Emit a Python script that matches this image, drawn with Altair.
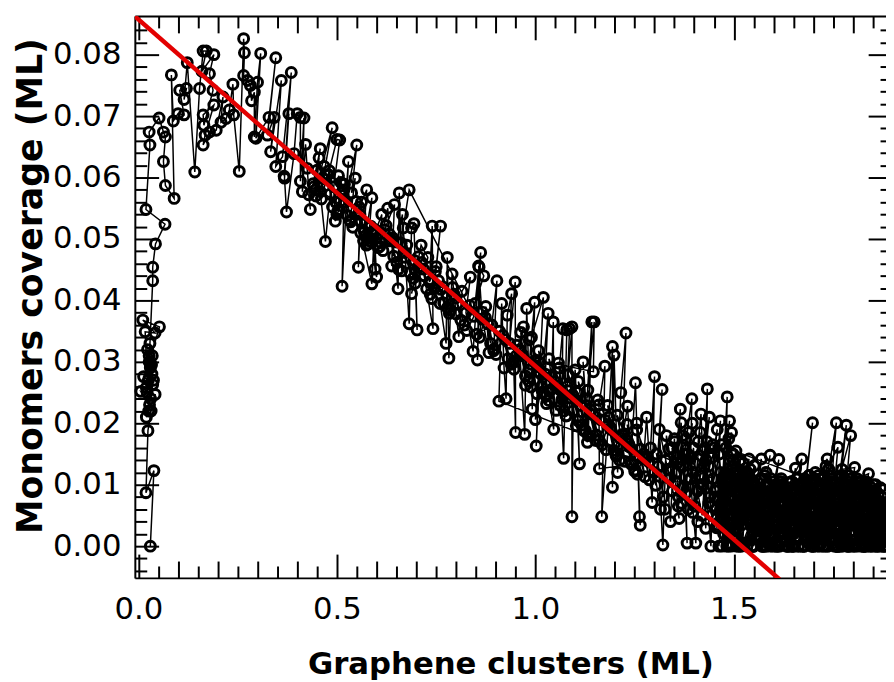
import altair as alt
import pandas as pd

# ---------------- data (ordered as in the connected series) ----------------
rise_x = [0.030, 0.039, 0.019, 0.024, 0.032, 0.020, 0.042, 0.006, 0.028, 0.036,
          0.013, 0.029, 0.033, 0.020, 0.038, 0.023, 0.030, 0.025, 0.031, 0.027,
          0.034, 0.022, 0.029, 0.035, 0.026, 0.017, 0.042, 0.011, 0.053, 0.027,
          0.036, 0.036, 0.043, 0.067, 0.019, 0.029, 0.027, 0.052, 0.063, 0.068,
          0.063, 0.068, 0.090]
rise_y = [0.0000, 0.0123, 0.0087, 0.0188, 0.0220, 0.0210, 0.0247, 0.0252, 0.0230, 0.0263,
          0.0276, 0.0298, 0.0295, 0.0258, 0.0270, 0.0320, 0.0290, 0.0270, 0.0240, 0.0310,
          0.0280, 0.0250, 0.0330, 0.0310, 0.0220, 0.0349, 0.0347, 0.0368, 0.0357, 0.0300,
          0.0432, 0.0454, 0.0492, 0.0524, 0.0548, 0.0653, 0.0674, 0.0697, 0.0674, 0.0666,
          0.0626, 0.0587, 0.0566]

plateau_x = [0.083, 0.088, 0.100, 0.115, 0.104, 0.121, 0.115, 0.123, 0.142, 0.154,
             0.163, 0.171, 0.160, 0.190, 0.179, 0.188, 0.165, 0.163, 0.190, 0.168,
             0.163, 0.179, 0.196, 0.213, 0.208, 0.221, 0.229, 0.238, 0.240, 0.254,
             0.265, 0.267, 0.265, 0.275, 0.282, 0.285, 0.292, 0.292, 0.300, 0.308,
             0.296, 0.329, 0.346, 0.325, 0.342, 0.333, 0.360, 0.346, 0.363, 0.385,
             0.367, 0.379, 0.368, 0.373, 0.392, 0.400, 0.408, 0.408, 0.417, 0.413,
             0.421]
plateau_y = [0.0767, 0.0692, 0.0704, 0.0702, 0.0742, 0.0745, 0.0727, 0.0787, 0.0609, 0.0745,
             0.0806, 0.0806, 0.0773, 0.0800, 0.0769, 0.0742, 0.0685, 0.0702, 0.0718, 0.0669,
             0.0653, 0.0674, 0.0677, 0.0731, 0.0690, 0.0696, 0.0710, 0.0752, 0.0702, 0.0610,
             0.0826, 0.0803, 0.0766, 0.0758, 0.0750, 0.0725, 0.0739, 0.0666, 0.0755, 0.0802,
             0.0664, 0.0698, 0.0795, 0.0669, 0.0698, 0.0642, 0.0758, 0.0618, 0.0634, 0.0771,
             0.0602, 0.0704, 0.0599, 0.0544, 0.0639, 0.0704, 0.0698, 0.0594, 0.0697, 0.0577,
             0.0654]

declA_x = [0.425, 0.433, 0.429, 0.440, 0.458, 0.450, 0.446, 0.488, 0.465, 0.458,
           0.471, 0.483, 0.478, 0.500, 0.507, 0.492, 0.496, 0.500, 0.506, 0.504,
           0.518, 0.513, 0.529, 0.521, 0.550, 0.537, 0.546, 0.533, 0.558, 0.554,
           0.562, 0.575, 0.567, 0.571, 0.588, 0.579, 0.583, 0.560, 0.588, 0.594,
           0.600, 0.596, 0.590, 0.613, 0.608, 0.628, 0.633, 0.620, 0.645, 0.638,
           0.640, 0.654, 0.657, 0.663, 0.665, 0.650]
declA_y = [0.0615, 0.0548, 0.0572, 0.0590, 0.0647, 0.0612, 0.0580, 0.0681, 0.0598, 0.0577,
           0.0496, 0.0573, 0.0605, 0.0662, 0.0661, 0.0585, 0.0529, 0.0540, 0.0548, 0.0603,
           0.0580, 0.0423, 0.0626, 0.0560, 0.0653, 0.0575, 0.0599, 0.0530, 0.0540, 0.0454,
           0.0560, 0.0580, 0.0497, 0.0505, 0.0567, 0.0492, 0.0497, 0.0510, 0.0427, 0.0510,
           0.0438, 0.0451, 0.0500, 0.0540, 0.0488, 0.0550, 0.0497, 0.0515, 0.0556, 0.0456,
           0.0502, 0.0419, 0.0575, 0.0448, 0.0540, 0.0495]

declF_x = [0.442, 0.455, 0.447, 0.468, 0.461, 0.476, 0.489, 0.481, 0.497, 0.510,
           0.502, 0.516, 0.527, 0.519, 0.535, 0.548, 0.540, 0.556, 0.569, 0.561,
           0.577, 0.585, 0.574, 0.592, 0.604, 0.597, 0.611, 0.624, 0.616, 0.632,
           0.643, 0.636, 0.651, 0.662, 0.655, 0.671, 0.684, 0.676, 0.692, 0.705,
           0.697, 0.713, 0.726, 0.718, 0.735, 0.748, 0.739, 0.756, 0.769, 0.762,
           0.778, 0.791, 0.783, 0.799, 0.812, 0.804, 0.821, 0.834, 0.827, 0.845]
declF_y = [0.0585, 0.0632, 0.0570, 0.0618, 0.0565, 0.0604, 0.0552, 0.0611, 0.0560, 0.0592,
           0.0545, 0.0571, 0.0538, 0.0589, 0.0528, 0.0561, 0.0519, 0.0552, 0.0512, 0.0529,
           0.0503, 0.0521, 0.0490, 0.0508, 0.0486, 0.0515, 0.0494, 0.0522, 0.0481, 0.0508,
           0.0472, 0.0499, 0.0462, 0.0493, 0.0451, 0.0478, 0.0445, 0.0490, 0.0436, 0.0471,
           0.0428, 0.0462, 0.0419, 0.0451, 0.0410, 0.0447, 0.0403, 0.0432, 0.0396, 0.0418,
           0.0388, 0.0421, 0.0379, 0.0404, 0.0368, 0.0395, 0.0360, 0.0392, 0.0351, 0.0374]

declB_x = [0.682, 0.667, 0.672, 0.682, 0.688, 0.694, 0.702, 0.695, 0.704, 0.688,
           0.712, 0.729, 0.720, 0.742, 0.740, 0.733, 0.750, 0.761, 0.745, 0.767,
           0.760, 0.775, 0.778, 0.782, 0.786, 0.790, 0.795, 0.800, 0.807, 0.815,
           0.836, 0.825, 0.843, 0.858, 0.854, 0.862, 0.848, 0.870, 0.857, 0.866,
           0.883, 0.875, 0.895, 0.903, 0.890]
declB_y = [0.0580, 0.0518, 0.0470, 0.0362, 0.0518, 0.0525, 0.0352, 0.0465, 0.0454, 0.0411,
           0.0490, 0.0470, 0.0440, 0.0354, 0.0521, 0.0430, 0.0455, 0.0521, 0.0420, 0.0422,
           0.0395, 0.0330, 0.0470, 0.0306, 0.0384, 0.0443, 0.0410, 0.0378, 0.0341, 0.0415,
           0.0438, 0.0380, 0.0317, 0.0454, 0.0303, 0.0478, 0.0395, 0.0440, 0.0456, 0.0370,
           0.0315, 0.0390, 0.0318, 0.0432, 0.0360]

declH_x = [0.852, 0.866, 0.859, 0.874, 0.887, 0.880, 0.896, 0.909, 0.901, 0.918,
           0.931, 0.924, 0.939, 0.953, 0.946, 0.961, 0.975, 0.967, 0.984, 0.997,
           0.989, 1.005, 1.019, 1.011, 1.027, 1.041, 1.034, 1.049, 1.063, 1.056,
           1.072, 1.085, 1.077, 1.094, 1.108, 1.101, 1.117, 1.129, 1.122, 1.139,
           1.153, 1.145, 1.161, 1.175, 1.168, 1.183, 1.197, 1.190, 1.206, 1.219,
           1.212, 1.228, 1.242, 1.235, 1.251, 1.264, 1.257, 1.273, 1.287, 1.279]
declH_y = [0.0345, 0.0381, 0.0340, 0.0372, 0.0330, 0.0362, 0.0321, 0.0350, 0.0312, 0.0343,
           0.0305, 0.0336, 0.0296, 0.0327, 0.0288, 0.0318, 0.0277, 0.0310, 0.0268, 0.0301,
           0.0259, 0.0292, 0.0251, 0.0283, 0.0244, 0.0276, 0.0237, 0.0268, 0.0229, 0.0261,
           0.0220, 0.0253, 0.0212, 0.0246, 0.0204, 0.0238, 0.0197, 0.0229, 0.0188, 0.0222,
           0.0181, 0.0214, 0.0172, 0.0205, 0.0165, 0.0198, 0.0156, 0.0190, 0.0149, 0.0182,
           0.0140, 0.0174, 0.0133, 0.0166, 0.0124, 0.0158, 0.0117, 0.0150, 0.0108, 0.0142]

declC_x = [0.908, 0.915, 0.921, 0.926, 0.929, 0.940, 0.935, 0.949, 0.950, 0.945,
           0.970, 0.960, 0.973, 0.978, 0.983, 0.998, 0.992, 0.990, 1.020, 1.002,
           1.010, 1.000, 1.015, 1.032, 1.025, 1.046, 1.045, 1.040, 1.067, 1.069,
           1.060, 1.071, 1.079, 1.086, 1.080, 1.092, 1.092, 1.095, 1.100, 1.111,
           1.105, 1.131, 1.120, 1.133, 1.142, 1.130, 1.148, 1.146]
declC_y = [0.0236, 0.0395, 0.0290, 0.0240, 0.0376, 0.0411, 0.0330, 0.0430, 0.0185, 0.0300,
           0.0357, 0.0320, 0.0182, 0.0387, 0.0287, 0.0397, 0.0223, 0.0340, 0.0405, 0.0163,
           0.0300, 0.0206, 0.0260, 0.0379, 0.0280, 0.0190, 0.0365, 0.0255, 0.0239, 0.0354,
           0.0290, 0.0143, 0.0352, 0.0354, 0.0260, 0.0357, 0.0048, 0.0220, 0.0287, 0.0134,
           0.0250, 0.0169, 0.0300, 0.0180, 0.0365, 0.0240, 0.0365, 0.0284]

declE_x = [0.952, 0.975, 0.963, 0.988, 1.004, 0.985, 1.012, 1.028, 1.008, 1.037,
           1.052, 1.034, 1.063, 1.078, 1.058, 1.088, 1.103, 1.083, 1.114, 1.126,
           1.108, 1.137, 1.152, 1.132, 1.164, 1.178, 1.157, 1.189, 1.203, 1.182,
           1.212, 1.226, 1.206, 1.238, 1.250, 1.231, 1.262, 1.276, 1.255, 1.286]
declE_y = [0.0310, 0.0262, 0.0348, 0.0296, 0.0248, 0.0336, 0.0281, 0.0232, 0.0318, 0.0266,
           0.0221, 0.0305, 0.0255, 0.0212, 0.0298, 0.0241, 0.0196, 0.0279, 0.0229, 0.0188,
           0.0268, 0.0216, 0.0172, 0.0254, 0.0206, 0.0157, 0.0238, 0.0192, 0.0147, 0.0229,
           0.0176, 0.0138, 0.0213, 0.0161, 0.0122, 0.0198, 0.0146, 0.0113, 0.0189, 0.0137]

declD_x = [1.161, 1.160, 1.175, 1.167, 1.185, 1.194, 1.194, 1.198, 1.207, 1.215,
           1.228, 1.220, 1.232, 1.240, 1.252, 1.262, 1.264, 1.255, 1.273, 1.280,
           1.294, 1.300, 1.290, 1.303, 1.319, 1.310, 1.321, 1.330, 1.336, 1.345,
           1.365, 1.355, 1.367, 1.382, 1.375, 1.394, 1.390, 1.404, 1.410, 1.417,
           1.429, 1.433, 1.425, 1.442, 1.450, 1.300, 1.315, 1.328, 1.340, 1.350,
           1.360, 1.372, 1.385, 1.398, 1.408, 1.420, 1.430, 1.440, 1.448]
declD_y = [0.0126, 0.0230, 0.0293, 0.0048, 0.0210, 0.0325, 0.0096, 0.0311, 0.0120, 0.0250,
           0.0347, 0.0180, 0.0228, 0.0137, 0.0266, 0.0048, 0.0034, 0.0200, 0.0145, 0.0210,
           0.0071, 0.0276, 0.0160, 0.0099, 0.0255, 0.0130, 0.0002, 0.0180, 0.0158, 0.0090,
           0.0223, 0.0120, 0.0201, 0.0005, 0.0150, 0.0240, 0.0110, 0.0005, 0.0170, 0.0215,
           0.0029, 0.0256, 0.0130, 0.0000, 0.0160, 0.0120, 0.0060, 0.0140, 0.0040, 0.0175,
           0.0080, 0.0130, 0.0060, 0.0160, 0.0090, 0.0050, 0.0140, 0.0080, 0.0110]

tailG_x = [1.305, 1.322, 1.312, 1.338, 1.326, 1.351, 1.334, 1.362, 1.344, 1.373,
           1.357, 1.386, 1.368, 1.397, 1.379, 1.409, 1.391, 1.421, 1.401, 1.432,
           1.413, 1.444, 1.424, 1.455, 1.436, 1.466, 1.447, 1.478, 1.458, 1.489,
           1.469, 1.500, 1.480, 1.511, 1.491, 1.522, 1.503, 1.533, 1.515, 1.544]
tailG_y = [0.0150, 0.0080, 0.0190, 0.0110, 0.0060, 0.0170, 0.0125, 0.0045, 0.0160, 0.0095,
           0.0135, 0.0185, 0.0070, 0.0120, 0.0175, 0.0040, 0.0145, 0.0100, 0.0065, 0.0170,
           0.0115, 0.0050, 0.0155, 0.0090, 0.0130, 0.0060, 0.0165, 0.0105, 0.0075, 0.0140,
           0.0045, 0.0120, 0.0095, 0.0035, 0.0110, 0.0080, 0.0025, 0.0115, 0.0060, 0.0100]

tailK_x = [1.352, 1.371, 1.360, 1.384, 1.395, 1.378, 1.402, 1.415, 1.396, 1.427,
           1.438, 1.419, 1.446, 1.458, 1.437, 1.468, 1.479, 1.457, 1.487, 1.498,
           1.476, 1.505, 1.515, 1.494, 1.524, 1.534, 1.511, 1.541, 1.552, 1.530]
tailK_y = [0.0105, 0.0180, 0.0065, 0.0150, 0.0200, 0.0085, 0.0135, 0.0185, 0.0055, 0.0160,
           0.0210, 0.0095, 0.0145, 0.0190, 0.0070, 0.0165, 0.0120, 0.0045, 0.0175, 0.0140,
           0.0090, 0.0155, 0.0120, 0.0060, 0.0135, 0.0100, 0.0040, 0.0125, 0.0085, 0.0110]

tailA_x = [1.452, 1.466, 1.458, 1.489, 1.471, 1.494, 1.462, 1.480, 1.455, 1.498,
           1.476, 1.483, 1.468, 1.505, 1.490, 1.514, 1.487, 1.502, 1.521, 1.495,
           1.510, 1.538, 1.506, 1.525, 1.516, 1.551, 1.530, 1.512, 1.542, 1.528,
           1.560, 1.535, 1.548, 1.569, 1.540, 1.556, 1.520, 1.565, 1.550, 1.578,
           1.545, 1.572, 1.558, 1.591, 1.563, 1.584, 1.575, 1.600, 1.568, 1.588,
           1.613, 1.581, 1.596, 1.605, 1.586, 1.618, 1.594, 1.608, 1.579, 1.622]
tailA_y = [0.0080, 0.0204, 0.0035, 0.0204, 0.0110, 0.0185, 0.0000, 0.0095, 0.0060, 0.0150,
           0.0020, 0.0243, 0.0070, 0.0120, 0.0005, 0.0137, 0.0045, 0.0090, 0.0110, 0.0015,
           0.0065, 0.0142, 0.0030, 0.0100, 0.0000, 0.0131, 0.0055, 0.0085, 0.0010, 0.0120,
           0.0040, 0.0095, 0.0000, 0.0142, 0.0060, 0.0025, 0.0105, 0.0075, 0.0000, 0.0115,
           0.0050, 0.0088, 0.0015, 0.0148, 0.0035, 0.0100, 0.0000, 0.0070, 0.0110, 0.0020,
           0.0141, 0.0045, 0.0090, 0.0005, 0.0060, 0.0105, 0.0030, 0.0080, 0.0000, 0.0095]

tailD_x = [1.462, 1.478, 1.470, 1.495, 1.484, 1.503, 1.474, 1.512, 1.493, 1.520,
           1.500, 1.528, 1.508, 1.536, 1.517, 1.545, 1.524, 1.553, 1.533, 1.561,
           1.541, 1.570, 1.549, 1.577, 1.557, 1.585, 1.566, 1.593, 1.573, 1.601,
           1.582, 1.609, 1.590, 1.617, 1.598, 1.626, 1.606, 1.634, 1.614, 1.642,
           1.621, 1.650, 1.629, 1.657, 1.637, 1.665, 1.646, 1.673, 1.654, 1.681,
           1.661, 1.689, 1.669, 1.697, 1.677, 1.705, 1.685, 1.713, 1.693, 1.721]
tailD_y = [0.0030, 0.0105, 0.0000, 0.0090, 0.0050, 0.0115, 0.0020, 0.0075, 0.0000, 0.0100,
           0.0040, 0.0085, 0.0010, 0.0110, 0.0060, 0.0000, 0.0095, 0.0035, 0.0120, 0.0015,
           0.0080, 0.0000, 0.0105, 0.0045, 0.0090, 0.0005, 0.0070, 0.0110, 0.0025, 0.0095,
           0.0000, 0.0060, 0.0100, 0.0020, 0.0085, 0.0040, 0.0000, 0.0075, 0.0105, 0.0030,
           0.0065, 0.0000, 0.0090, 0.0015, 0.0080, 0.0050, 0.0000, 0.0100, 0.0035, 0.0070,
           0.0110, 0.0005, 0.0060, 0.0095, 0.0000, 0.0085, 0.0040, 0.0115, 0.0020, 0.0075]

tailB_x = [1.603, 1.630, 1.612, 1.639, 1.624, 1.645, 1.615, 1.655, 1.633, 1.648,
           1.627, 1.660, 1.642, 1.671, 1.650, 1.636, 1.665, 1.653, 1.680, 1.658,
           1.644, 1.676, 1.662, 1.690, 1.668, 1.698, 1.674, 1.684, 1.663, 1.702,
           1.686, 1.695, 1.678, 1.712, 1.692, 1.705, 1.720, 1.700, 1.715, 1.688,
           1.726, 1.708, 1.735, 1.718, 1.730, 1.710, 1.742, 1.724, 1.738, 1.716,
           1.750, 1.732, 1.746, 1.728, 1.758, 1.740, 1.753, 1.722, 1.762, 1.744]
tailB_y = [0.0060, 0.0010, 0.0090, 0.0103, 0.0030, 0.0075, 0.0000, 0.0127, 0.0050, 0.0020,
           0.0085, 0.0040, 0.0104, 0.0142, 0.0000, 0.0065, 0.0095, 0.0077, 0.0025, 0.0110,
           0.0045, 0.0080, 0.0000, 0.0115, 0.0035, 0.0201, 0.0060, 0.0100, 0.0015, 0.0085,
           0.0050, 0.0000, 0.0110, 0.0070, 0.0030, 0.0120, 0.0005, 0.0095, 0.0055, 0.0080,
           0.0020, 0.0105, 0.0142, 0.0040, 0.0090, 0.0000, 0.0115, 0.0065, 0.0025, 0.0100,
           0.0045, 0.0130, 0.0010, 0.0085, 0.0201, 0.0060, 0.0000, 0.0110, 0.0161, 0.0035]

tailE_x = [1.729, 1.716, 1.737, 1.724, 1.745, 1.731, 1.753, 1.739, 1.761, 1.747,
           1.769, 1.755, 1.777, 1.763, 1.785, 1.771, 1.793, 1.779, 1.801, 1.787,
           1.809, 1.795, 1.817, 1.803, 1.825, 1.811, 1.833, 1.819, 1.841, 1.827,
           1.849, 1.835, 1.857, 1.843, 1.865, 1.851, 1.873, 1.859, 1.881, 1.867,
           1.875, 1.861, 1.883, 1.869, 1.855, 1.877, 1.847, 1.871, 1.839, 1.863,
           1.831, 1.857, 1.823, 1.849, 1.815, 1.841, 1.807, 1.833, 1.799, 1.826]
tailE_y = [0.0050, 0.0000, 0.0095, 0.0030, 0.0110, 0.0010, 0.0075, 0.0125, 0.0000, 0.0090,
           0.0040, 0.0105, 0.0015, 0.0080, 0.0000, 0.0115, 0.0055, 0.0025, 0.0100, 0.0000,
           0.0070, 0.0110, 0.0035, 0.0000, 0.0090, 0.0045, 0.0105, 0.0010, 0.0075, 0.0000,
           0.0085, 0.0030, 0.0100, 0.0000, 0.0065, 0.0040, 0.0080, 0.0005, 0.0060, 0.0020,
           0.0000, 0.0075, 0.0045, 0.0010, 0.0085, 0.0000, 0.0060, 0.0030, 0.0090, 0.0005,
           0.0070, 0.0000, 0.0100, 0.0035, 0.0080, 0.0010, 0.0095, 0.0000, 0.0065, 0.0040]

tailI_x = [1.468, 1.486, 1.477, 1.499, 1.488, 1.511, 1.501, 1.523, 1.513, 1.536,
           1.526, 1.548, 1.538, 1.561, 1.551, 1.573, 1.563, 1.586, 1.576, 1.598,
           1.588, 1.611, 1.601, 1.623, 1.613, 1.636, 1.626, 1.648, 1.638, 1.661,
           1.651, 1.673, 1.663, 1.686, 1.676, 1.698, 1.688, 1.711, 1.701, 1.723,
           1.713, 1.736, 1.726, 1.748, 1.738, 1.761, 1.751, 1.773, 1.763, 1.786,
           1.776, 1.798, 1.788, 1.811, 1.801, 1.823, 1.813, 1.836, 1.826, 1.848]
tailI_y = [0.0055, 0.0000, 0.0115, 0.0025, 0.0080, 0.0000, 0.0100, 0.0045, 0.0005, 0.0090,
           0.0060, 0.0000, 0.0110, 0.0030, 0.0075, 0.0000, 0.0095, 0.0050, 0.0010, 0.0085,
           0.0040, 0.0000, 0.0105, 0.0020, 0.0070, 0.0000, 0.0090, 0.0055, 0.0015, 0.0080,
           0.0035, 0.0000, 0.0100, 0.0025, 0.0065, 0.0000, 0.0085, 0.0045, 0.0010, 0.0095,
           0.0030, 0.0000, 0.0110, 0.0050, 0.0075, 0.0000, 0.0090, 0.0020, 0.0060, 0.0105,
           0.0040, 0.0000, 0.0080, 0.0030, 0.0095, 0.0005, 0.0070, 0.0045, 0.0000, 0.0085]

tailF_x = [1.795, 1.781, 1.789, 1.770, 1.778, 1.758, 1.766, 1.749, 1.757, 1.738,
           1.746, 1.727, 1.735, 1.714, 1.723, 1.703, 1.711, 1.692, 1.700, 1.681,
           1.689, 1.668, 1.677, 1.656, 1.664, 1.645, 1.653, 1.632, 1.641, 1.620,
           1.628, 1.607, 1.616, 1.595, 1.604, 1.583, 1.592, 1.571, 1.580, 1.559,
           1.567, 1.546, 1.555, 1.534, 1.543, 1.522, 1.531, 1.509, 1.518, 1.497,
           1.506, 1.486, 1.494, 1.474, 1.482, 1.463, 1.471, 1.456, 1.466, 1.481]
tailF_y = [0.0010, 0.0085, 0.0040, 0.0000, 0.0100, 0.0055, 0.0020, 0.0090, 0.0000, 0.0065,
           0.0105, 0.0030, 0.0000, 0.0080, 0.0045, 0.0110, 0.0015, 0.0070, 0.0000, 0.0095,
           0.0035, 0.0060, 0.0000, 0.0085, 0.0025, 0.0105, 0.0050, 0.0000, 0.0090, 0.0030,
           0.0070, 0.0000, 0.0100, 0.0045, 0.0015, 0.0080, 0.0000, 0.0110, 0.0060, 0.0025,
           0.0090, 0.0000, 0.0075, 0.0120, 0.0040, 0.0005, 0.0095, 0.0055, 0.0000, 0.0130,
           0.0070, 0.0020, 0.0110, 0.0045, 0.0000, 0.0150, 0.0085, 0.0030, 0.0120, 0.0060]

tailH_x = [1.885, 1.871, 1.878, 1.862, 1.869, 1.853, 1.860, 1.844, 1.851, 1.835,
           1.842, 1.826, 1.833, 1.817, 1.824, 1.808, 1.815, 1.799, 1.806, 1.790,
           1.797, 1.781, 1.788, 1.772, 1.779, 1.763, 1.770, 1.754, 1.761, 1.745,
           1.752, 1.736, 1.743, 1.727, 1.734, 1.718, 1.725, 1.709, 1.716, 1.700,
           1.707, 1.691, 1.698, 1.682, 1.689, 1.673, 1.680, 1.664, 1.671, 1.655,
           1.662, 1.646, 1.653, 1.637, 1.644, 1.628, 1.635, 1.619, 1.626, 1.610]
tailH_y = [0.0035, 0.0070, 0.0000, 0.0050, 0.0095, 0.0020, 0.0065, 0.0000, 0.0100, 0.0040,
           0.0080, 0.0010, 0.0055, 0.0105, 0.0000, 0.0075, 0.0030, 0.0090, 0.0005, 0.0060,
           0.0110, 0.0025, 0.0070, 0.0000, 0.0095, 0.0045, 0.0015, 0.0085, 0.0000, 0.0060,
           0.0100, 0.0030, 0.0075, 0.0000, 0.0050, 0.0110, 0.0020, 0.0085, 0.0040, 0.0000,
           0.0070, 0.0105, 0.0010, 0.0055, 0.0090, 0.0000, 0.0065, 0.0030, 0.0100, 0.0015,
           0.0080, 0.0000, 0.0045, 0.0095, 0.0020, 0.0070, 0.0000, 0.0110, 0.0035, 0.0085]

tailJ_x = [1.876, 1.858, 1.867, 1.845, 1.854, 1.832, 1.841, 1.819, 1.828, 1.806,
           1.815, 1.793, 1.802, 1.780, 1.789, 1.767, 1.776, 1.754, 1.763, 1.741,
           1.750, 1.728, 1.737, 1.715, 1.724, 1.702, 1.711, 1.689, 1.698, 1.676,
           1.685, 1.663, 1.672, 1.650, 1.659, 1.637, 1.646, 1.624, 1.633, 1.611,
           1.620, 1.598, 1.607, 1.585, 1.594, 1.572, 1.581, 1.559, 1.568, 1.546,
           1.555, 1.533, 1.542, 1.520, 1.529, 1.507, 1.516, 1.494, 1.503, 1.480]
tailJ_y = [0.0020, 0.0065, 0.0000, 0.0090, 0.0040, 0.0000, 0.0075, 0.0105, 0.0015, 0.0055,
           0.0000, 0.0095, 0.0035, 0.0070, 0.0000, 0.0110, 0.0025, 0.0060, 0.0000, 0.0085,
           0.0045, 0.0010, 0.0100, 0.0030, 0.0000, 0.0080, 0.0050, 0.0115, 0.0005, 0.0065,
           0.0035, 0.0000, 0.0095, 0.0020, 0.0075, 0.0000, 0.0105, 0.0040, 0.0010, 0.0085,
           0.0055, 0.0000, 0.0100, 0.0025, 0.0070, 0.0000, 0.0120, 0.0045, 0.0015, 0.0090,
           0.0060, 0.0000, 0.0110, 0.0035, 0.0080, 0.0000, 0.0140, 0.0050, 0.0100, 0.0160]

tailC_x = [1.770, 1.756, 1.783, 1.765, 1.794, 1.776, 1.760, 1.788, 1.772, 1.804,
           1.780, 1.797, 1.768, 1.812, 1.790, 1.802, 1.785, 1.820, 1.798, 1.775,
           1.815, 1.806, 1.830, 1.792, 1.824, 1.810, 1.839, 1.818, 1.800, 1.845,
           1.827, 1.836, 1.814, 1.852, 1.833, 1.848, 1.822, 1.860, 1.842, 1.856,
           1.870, 1.838, 1.864, 1.850, 1.876, 1.858, 1.866, 1.846, 1.880, 1.862,
           1.872, 1.854, 1.884, 1.868, 1.878, 1.882, 1.874, 1.886, 1.879, 1.888]
tailC_y = [0.0090, 0.0030, 0.0197, 0.0110, 0.0180, 0.0050, 0.0000, 0.0100, 0.0125, 0.0128,
           0.0020, 0.0080, 0.0045, 0.0105, 0.0000, 0.0065, 0.0115, 0.0030, 0.0090, 0.0010,
           0.0075, 0.0000, 0.0100, 0.0055, 0.0025, 0.0110, 0.0118, 0.0040, 0.0085, 0.0096,
           0.0000, 0.0060, 0.0095, 0.0020, 0.0080, 0.0035, 0.0105, 0.0000, 0.0070, 0.0050,
           0.0068, 0.0015, 0.0085, 0.0000, 0.0055, 0.0090, 0.0025, 0.0075, 0.0040, 0.0000,
           0.0060, 0.0030, 0.0070, 0.0010, 0.0050, 0.0000, 0.0065, 0.0035, 0.0020, 0.0045]

# red linear fit (two end points)
fit_x = [-0.01, 1.615]
fit_y = [0.0863, -0.0054]

# axis ticks
x_labels = [0.0, 0.5, 1.0, 1.5]
x_mid = [0.1, 0.2, 0.3, 0.4, 0.6, 0.7, 0.8, 0.9, 1.1, 1.2, 1.3, 1.4, 1.6, 1.7, 1.8]
x_minor = [0.05, 0.15, 0.25, 0.35, 0.45, 0.55, 0.65, 0.75, 0.85, 0.95,
           1.05, 1.15, 1.25, 1.35, 1.45, 1.55, 1.65, 1.75, 1.85]
y_labels = [0.00, 0.01, 0.02, 0.03, 0.04, 0.05, 0.06, 0.07, 0.08]
y_minor = [-0.004, -0.002, 0.002, 0.004, 0.006, 0.008, 0.012, 0.014, 0.016, 0.018,
           0.022, 0.024, 0.026, 0.028, 0.032, 0.034, 0.036, 0.038, 0.042, 0.044,
           0.046, 0.048, 0.052, 0.054, 0.056, 0.058, 0.062, 0.064, 0.066, 0.068,
           0.072, 0.074, 0.076, 0.078, 0.082, 0.084]

X_DOMAIN = [-0.009, 1.883]
Y_DOMAIN = [-0.00516, 0.08629]

# ---------------- build tables ----------------
segments = [(rise_x, rise_y), (plateau_x, plateau_y), (declA_x, declA_y), (declF_x, declF_y),
            (declB_x, declB_y), (declH_x, declH_y), (declC_x, declC_y), (declE_x, declE_y),
            (declD_x, declD_y), (tailG_x, tailG_y), (tailK_x, tailK_y), (tailA_x, tailA_y),
            (tailD_x, tailD_y), (tailB_x, tailB_y), (tailE_x, tailE_y), (tailI_x, tailI_y),
            (tailF_x, tailF_y), (tailH_x, tailH_y), (tailJ_x, tailJ_y), (tailC_x, tailC_y)]
gc, mono = [], []
for sx, sy in segments:
    n = min(len(sx), len(sy))
    gc.extend(sx[:n])
    mono.extend(sy[:n])
data = pd.DataFrame({"gc": gc, "mono": mono, "step": list(range(len(gc)))})
fit = pd.DataFrame({"gc": fit_x, "mono": fit_y})

LABEL_FONT = "DejaVu Sans"
xscale = alt.Scale(domain=X_DOMAIN, nice=False, zero=False)
yscale = alt.Scale(domain=Y_DOMAIN, nice=False, zero=False)


def tick_axis(orient, values, length):
    # inward ticks: shift the axis inside the frame by its own tick length
    return alt.Axis(orient=orient, values=values, tickSize=length, offset=-length,
                    ticks=True, tickColor="black", tickWidth=2, labels=False,
                    domain=False, grid=False, title=None)


x_main = alt.Axis(orient="bottom", values=x_labels, format=".1f", grid=False,
                  ticks=False, tickSize=0, domain=True, domainColor="black", domainWidth=2,
                  labelFont=LABEL_FONT, labelFontSize=31, labelColor="black",
                  labelPadding=17, labelFlush=False, labelOverlap=False,
                  title="Graphene clusters (ML)", titleFont=LABEL_FONT, titleFontSize=31,
                  titleFontWeight="bold", titleColor="black", titleY=96,
                  titleBaseline="alphabetic")
y_main = alt.Axis(orient="left", values=y_labels, format=".2f", grid=False,
                  ticks=False, tickSize=0, domain=True, domainColor="black", domainWidth=2,
                  labelFont=LABEL_FONT, labelFontSize=31, labelColor="black",
                  labelPadding=14, labelFlush=False, labelOverlap=False,
                  title="Monomers coverage (ML)", titleFont=LABEL_FONT, titleFontSize=35,
                  titleFontWeight="bold", titleColor="black", titleAngle=270,
                  titleX=-94, titleY=272, titleAlign="center", titleBaseline="alphabetic")
x_top_frame = alt.Axis(orient="top", ticks=False, labels=False, domain=True,
                       domainColor="black", domainWidth=2, grid=False, title=None)


def enc(chart, xaxis, yaxis):
    return chart.encode(
        x=alt.X("gc:Q", scale=xscale, axis=xaxis),
        y=alt.Y("mono:Q", scale=yscale, axis=yaxis),
    )


series_line = enc(alt.Chart(data).mark_line(color="black", strokeWidth=1.5),
                  x_main, y_main).encode(order=alt.Order("step:Q"))
series_pts = enc(alt.Chart(data).mark_point(shape="circle", filled=False, size=100,
                                            strokeWidth=3, color="black", opacity=1),
                 None, None)
fit_line = enc(alt.Chart(fit).mark_line(color="#e30000", strokeWidth=4.5, clip=True),
               x_top_frame, tick_axis("right", y_labels, 18))

ghost = alt.Chart(fit).mark_line(strokeOpacity=0)
t1 = enc(ghost, tick_axis("bottom", x_labels, 24), tick_axis("left", y_labels, 24))
t2 = enc(ghost, tick_axis("bottom", x_mid, 17), tick_axis("left", y_minor, 12))
t3 = enc(ghost, tick_axis("bottom", x_minor, 12), tick_axis("right", y_minor, 6))
t4 = enc(ghost, tick_axis("top", x_labels, 24), None)
t5 = enc(ghost, tick_axis("top", x_mid, 17), None)
t6 = enc(ghost, tick_axis("top", x_minor, 12), None)

chart = (
    alt.layer(series_line, series_pts, fit_line, t1, t2, t3, t4, t5, t6)
    .resolve_axis(x="independent", y="independent")
    .properties(width=758, height=567,
                autosize=alt.AutoSizeParams(type="none"),
                padding={"left": 128, "top": 5, "right": 0, "bottom": 104})
    .configure_view(stroke=None)
)

chart.save("out.html", embed_options={"renderer": "svg", "actions": False})
